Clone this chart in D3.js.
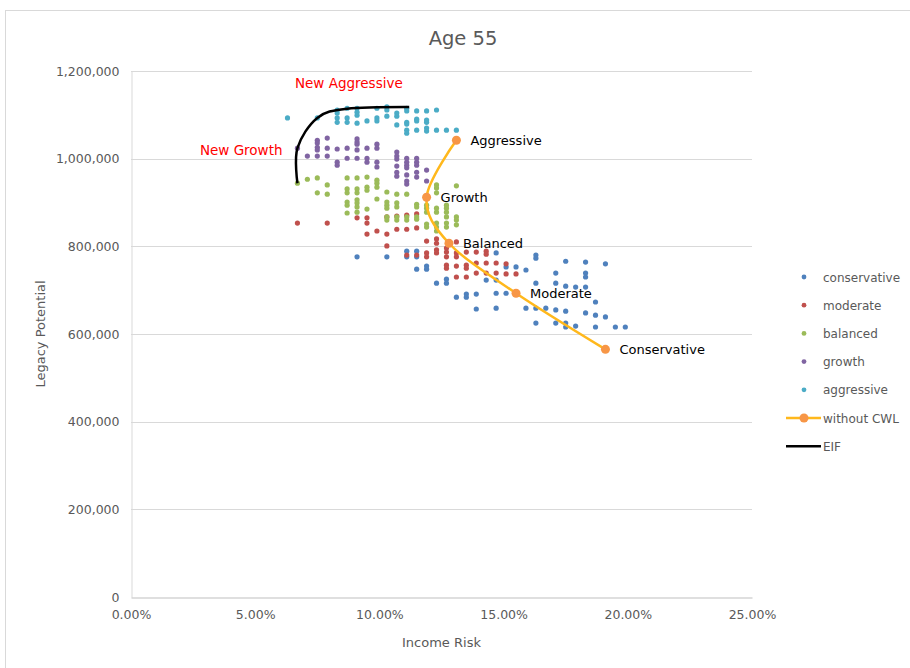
<!DOCTYPE html>
<html>
<head>
<meta charset="utf-8">
<script src="https://cdn.jsdelivr.net/npm/d3@7"></script>
<style>
  body { margin: 0; background: #fff; }
  svg { display: block; font-family: "DejaVu Sans", sans-serif; }
</style>
</head>
<body>
<svg id="chart" width="910" height="668"></svg>
<script>
// Income risk (%) vs legacy potential, one array per portfolio group
var conservative = [
  [9.1, 776000], [10.3, 776000], [11.1, 789000], [11.1, 776000], [11.5, 789000], [11.5, 776000],
  [11.5, 748000], [11.9, 755000], [11.9, 748000], [12.3, 716000], [12.7, 725000], [12.7, 716000],
  [13.1, 684000], [13.5, 691000], [13.5, 684000], [13.9, 691000], [13.9, 657000], [14.3, 723000],
  [14.7, 785000], [14.7, 723000], [14.7, 693000], [14.7, 659000], [15.1, 693000], [15.1, 753000],
  [15.5, 753000], [15.9, 746000], [15.9, 659000], [16.3, 780000], [16.3, 773000], [16.3, 716000],
  [16.3, 659000], [16.3, 625000], [16.7, 659000], [17.1, 739000], [17.1, 716000], [17.1, 655000],
  [17.1, 625000], [17.5, 766000], [17.5, 709000], [17.5, 652000], [17.5, 625000], [17.5, 616000],
  [17.9, 707000], [17.9, 618000], [18.3, 764000], [18.3, 739000], [18.3, 730000], [18.3, 707000],
  [18.3, 648000], [18.7, 673000], [18.7, 643000], [18.7, 616000], [19.1, 760000], [19.1, 639000],
  [19.5, 616000], [19.9, 616000]
];
var moderate = [
  [6.7, 853000], [7.9, 853000], [9.1, 865000], [9.5, 865000], [9.5, 853000], [9.5, 828000],
  [9.9, 835000], [10.3, 867000], [10.3, 828000], [10.3, 801000], [10.7, 869000], [10.7, 839000],
  [11.1, 871000], [11.1, 839000], [11.1, 780000], [11.5, 874000], [11.5, 842000], [11.5, 780000],
  [11.9, 812000], [11.9, 785000], [11.9, 776000], [12.3, 817000], [12.3, 807000], [12.3, 792000],
  [12.3, 785000], [12.7, 796000], [12.7, 787000], [12.7, 776000], [12.7, 757000], [12.7, 750000],
  [13.1, 810000], [13.1, 785000], [13.1, 776000], [13.1, 755000], [13.1, 730000], [13.5, 787000],
  [13.5, 757000], [13.5, 750000], [13.5, 730000], [13.9, 787000], [13.9, 762000], [13.9, 739000],
  [14.3, 789000], [14.3, 782000], [14.3, 762000], [14.3, 739000], [14.7, 762000], [14.7, 739000],
  [15.1, 760000], [15.1, 737000], [15.5, 737000]
];
var balanced = [
  [6.7, 944000], [7.1, 953000], [7.5, 956000], [7.5, 922000], [7.9, 940000], [7.9, 919000],
  [8.7, 956000], [8.7, 931000], [8.7, 922000], [8.7, 901000], [8.7, 894000], [8.7, 876000],
  [9.1, 956000], [9.1, 931000], [9.1, 922000], [9.1, 906000], [9.1, 899000], [9.1, 890000],
  [9.1, 878000], [9.5, 958000], [9.5, 935000], [9.5, 928000], [9.5, 885000], [9.9, 951000],
  [9.9, 944000], [9.9, 935000], [9.9, 908000], [10.3, 924000], [10.3, 901000], [10.3, 894000],
  [10.3, 887000], [10.3, 867000], [10.3, 860000], [10.7, 919000], [10.7, 899000], [10.7, 890000],
  [10.7, 867000], [10.7, 860000], [11.1, 919000], [11.1, 867000], [11.1, 860000], [11.5, 896000],
  [11.5, 890000], [11.5, 867000], [11.5, 862000], [11.9, 894000], [11.9, 887000], [11.9, 878000],
  [11.9, 851000], [11.9, 844000], [12.3, 940000], [12.3, 933000], [12.3, 922000], [12.3, 887000],
  [12.3, 878000], [12.3, 853000], [12.3, 844000], [12.3, 835000], [12.7, 894000], [12.7, 887000],
  [12.7, 878000], [12.7, 867000], [12.7, 853000], [12.7, 844000], [13.1, 938000], [13.1, 867000],
  [13.1, 860000], [13.1, 849000]
];
var growth = [
  [6.7, 1024000], [7.1, 1006000], [7.5, 1042000], [7.5, 1036000], [7.5, 1026000], [7.5, 1020000],
  [7.5, 1006000], [7.9, 1047000], [7.9, 1024000], [7.9, 1006000], [8.3, 1022000], [8.3, 992000],
  [8.3, 985000], [8.7, 1024000], [8.7, 1001000], [9.1, 1045000], [9.1, 1038000], [9.1, 1033000],
  [9.1, 1020000], [9.1, 1001000], [9.5, 1024000], [9.5, 1001000], [9.5, 992000], [9.9, 1033000],
  [9.9, 1024000], [9.9, 992000], [9.9, 981000], [10.7, 1015000], [10.7, 1006000], [10.7, 999000],
  [10.7, 983000], [10.7, 969000], [10.7, 960000], [11.1, 1001000], [11.1, 992000], [11.1, 985000],
  [11.1, 979000], [11.1, 963000], [11.1, 949000], [11.1, 942000], [11.5, 1001000], [11.5, 992000],
  [11.5, 985000], [11.5, 969000], [11.5, 958000], [11.9, 974000], [11.9, 949000]
];
var aggressive = [
  [6.3, 1093000], [7.5, 1093000], [8.3, 1111000], [8.3, 1104000], [8.3, 1093000], [8.3, 1083000],
  [8.7, 1115000], [8.7, 1093000], [8.7, 1083000], [9.1, 1115000], [9.1, 1106000], [9.1, 1099000],
  [9.1, 1081000], [9.5, 1086000], [9.9, 1115000], [9.9, 1093000], [9.9, 1086000], [10.3, 1118000],
  [10.3, 1111000], [10.3, 1097000], [10.7, 1104000], [10.7, 1097000], [10.7, 1077000], [11.1, 1115000],
  [11.1, 1109000], [11.1, 1083000], [11.1, 1079000], [11.1, 1065000], [11.1, 1058000], [11.5, 1109000],
  [11.5, 1090000], [11.5, 1086000], [11.5, 1065000], [11.9, 1109000], [11.9, 1088000], [11.9, 1083000],
  [11.9, 1070000], [11.9, 1063000], [12.3, 1111000], [12.3, 1065000], [12.7, 1065000], [13.1, 1065000]
];

var cwlNames = ["Aggressive", "Growth", "Balanced", "Moderate", "Conservative"];
var withoutCWL = [[13.1, 1042000], [11.9, 912000], [12.8, 807000], [15.5, 693000], [19.1, 565000]];
var eif = [[6.7, 944000], [6.7, 1024000], [7.5, 1093000], [8.7, 1114000], [11.2, 1118000]];

var notes = [
  { text: "New Aggressive", at: [6.6, 1172000], anchor: "start" },
  { text: "New Growth", at: [6.1, 1020000], anchor: "end" }
];

var xTicks = [0, 5, 10, 15, 20, 25];
var yTicks = [0, 200000, 400000, 600000, 800000, 1000000, 1200000];

var groups = [
  { name: "conservative", pts: conservative, color: "#4F81BD" },
  { name: "moderate", pts: moderate, color: "#C0504D" },
  { name: "balanced", pts: balanced, color: "#9BBB59" },
  { name: "growth", pts: growth, color: "#8064A2" },
  { name: "aggressive", pts: aggressive, color: "#4BACC6" }
];

(function () {
  var svg = d3.select("#chart");
  var left = 131, right = 752, plotTop = 71, plotBottom = 597;

  // chart frame (only left/top edges fall inside the window)
  svg.append("rect").attr("x", 5.5).attr("y", 10.5).attr("width", 920).attr("height", 680)
    .attr("fill", "#fff").attr("stroke", "#d9d9d9");

  var x = d3.scaleLinear().domain([0, 25]).range([left, right]);
  var y = d3.scaleLinear().domain([0, 1200000]).range([plotBottom, plotTop]);

  // gridlines
  svg.append("g").selectAll("line").data(yTicks.slice(1)).join("line")
    .attr("x1", left).attr("x2", right)
    .attr("y1", function (d) { return Math.round(y(d)) + 0.5; })
    .attr("y2", function (d) { return Math.round(y(d)) + 0.5; })
    .attr("stroke", "#d9d9d9");

  var yAxis = svg.append("g").attr("transform", "translate(" + (left + 0.5) + ",0)")
    .call(d3.axisLeft(y).tickValues(yTicks).tickFormat(d3.format(",")).tickSize(0).tickPadding(12));
  yAxis.select(".domain").attr("stroke", "#d9d9d9");
  yAxis.selectAll("text").attr("fill", "#595959").style("font-size", "12.5px")
    .style("font-family", "DejaVu Sans, sans-serif");

  var xAxis = svg.append("g").attr("transform", "translate(0," + (plotBottom + 0.5) + ")")
    .call(d3.axisBottom(x).tickValues(xTicks).tickFormat(function (d) { return d.toFixed(2) + "%"; })
      .tickSize(0).tickPadding(13));
  xAxis.select(".domain").attr("stroke", "#bfbfbf");
  xAxis.selectAll("text").attr("fill", "#595959").style("font-size", "12.5px")
    .style("font-family", "DejaVu Sans, sans-serif");

  // scatter groups
  groups.forEach(function (g) {
    svg.append("g").selectAll("circle").data(g.pts).join("circle")
      .attr("cx", function (d) { return x(d[0]); })
      .attr("cy", function (d) { return y(d[1]); })
      .attr("r", 2.6).attr("fill", g.color);
  });

  // Excel-style smoothed lines
  var smooth = d3.line().x(function (d) { return x(d[0]); }).y(function (d) { return y(d[1]); })
    .curve(d3.curveCatmullRom.alpha(0));

  svg.append("path").attr("d", smooth(eif)).attr("fill", "none")
    .attr("stroke", "#000").attr("stroke-width", 2.5);

  svg.append("path").attr("d", smooth(withoutCWL)).attr("fill", "none")
    .attr("stroke", "#FFB81C").attr("stroke-width", 2.5);
  svg.append("g").selectAll("circle").data(withoutCWL).join("circle")
    .attr("cx", function (d) { return x(d[0]); })
    .attr("cy", function (d) { return y(d[1]); })
    .attr("r", 4.5).attr("fill", "#F79646");

  svg.append("g").selectAll("text").data(withoutCWL).join("text")
    .attr("x", function (d) { return x(d[0]) + 14; })
    .attr("y", function (d) { return y(d[1]) + 5; })
    .attr("font-size", 13).attr("fill", "#000")
    .text(function (d, i) { return cwlNames[i]; });

  svg.append("g").selectAll("text").data(notes).join("text")
    .attr("x", function (d) { return x(d.at[0]); })
    .attr("y", function (d) { return y(d.at[1]) + 5; })
    .attr("text-anchor", function (d) { return d.anchor; })
    .attr("font-size", 13.5).attr("fill", "#FF0000")
    .text(function (d) { return d.text; });

  // titles
  svg.append("text").attr("x", 463).attr("y", 45).attr("text-anchor", "middle")
    .attr("font-size", 19.5).attr("fill", "#595959").text("Age 55");
  svg.append("text").attr("x", (left + right) / 2).attr("y", 647).attr("text-anchor", "middle")
    .attr("font-size", 13).attr("fill", "#595959").text("Income Risk");
  svg.append("text").attr("transform", "translate(45," + ((plotTop + plotBottom) / 2) + ") rotate(-90)")
    .attr("text-anchor", "middle").attr("font-size", 13).attr("fill", "#595959").text("Legacy Potential");

  // legend
  var legendRows = groups.map(function (g) { return { name: g.name, color: g.color, kind: "dot" }; })
    .concat([{ name: "without CWL", kind: "cwl" }, { name: "EIF", kind: "eif" }]);
  var row = svg.append("g").selectAll("g").data(legendRows).join("g")
    .attr("transform", function (d, i) { return "translate(0," + (277 + i * 28.2) + ")"; });
  row.filter(function (d) { return d.kind === "dot"; }).append("circle")
    .attr("cx", 804).attr("cy", 0).attr("r", 2.4).attr("fill", function (d) { return d.color; });
  row.filter(function (d) { return d.kind === "cwl"; }).append("line")
    .attr("x1", 786).attr("x2", 821).attr("stroke", "#FFB81C").attr("stroke-width", 2.5);
  row.filter(function (d) { return d.kind === "cwl"; }).append("circle")
    .attr("cx", 804).attr("r", 4.5).attr("fill", "#F79646");
  row.filter(function (d) { return d.kind === "eif"; }).append("line")
    .attr("x1", 786).attr("x2", 821).attr("stroke", "#000").attr("stroke-width", 2.5);
  row.append("text").attr("x", 823).attr("y", 4.5).attr("font-size", 12)
    .attr("fill", "#595959").text(function (d) { return d.name; });
})();
</script>
</body>
</html>
